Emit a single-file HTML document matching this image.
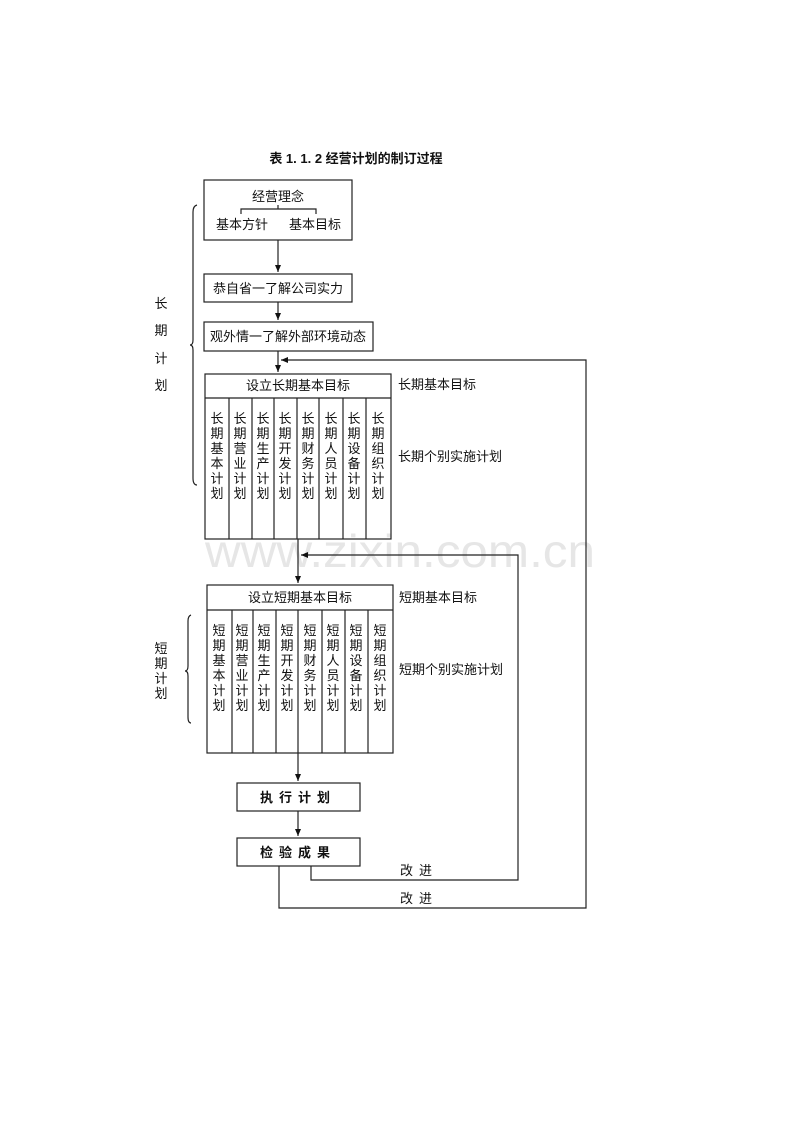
<!DOCTYPE html>
<html><head><meta charset="utf-8"><style>
html,body{margin:0;padding:0;background:#fff;}
svg{display:block;}
text{font-family:"Liberation Sans","Noto Sans CJK SC","WenQuanYi Zen Hei",sans-serif;fill:#111;}
</style></head><body>
<svg width="800" height="1132" viewBox="0 0 800 1132" xmlns="http://www.w3.org/2000/svg">
<defs><marker id="a" markerWidth="8" markerHeight="8" refX="7" refY="4" orient="auto" markerUnits="userSpaceOnUse"><path d="M0,1 L7,4 L0,7 Z" fill="#111"/></marker></defs>
<text x="205" y="567" font-size="46" style="fill:#e6e6e6" textLength="390" lengthAdjust="spacingAndGlyphs">www.zixin.com.cn</text>
<text x="356" y="163" font-size="13" font-weight="bold" text-anchor="middle">表 1. 1. 2  经营计划的制订过程</text>
<g fill="none" stroke="#222" stroke-width="1.2">
<rect x="204" y="180" width="148" height="60"/>
<path d="M278,205 V209 M241,214 V209 H316 V214"/>
<rect x="204" y="274" width="148" height="28"/>
<rect x="204" y="322" width="169" height="29"/>
<rect x="205" y="374" width="186" height="165"/>
<path d="M205,398 H391 M229,398V539 M252,398V539 M274,398V539 M297,398V539 M319,398V539 M343,398V539 M366,398V539"/>
<rect x="207" y="585" width="186" height="168"/>
<path d="M207,610 H393 M232,610V753 M253,610V753 M276,610V753 M298,610V753 M322,610V753 M345,610V753 M368,610V753"/>
<rect x="237" y="783" width="123" height="28"/>
<rect x="237" y="838" width="123" height="28"/>
<path d="M278,240 V272" marker-end="url(#a)"/>
<path d="M278,302 V320" marker-end="url(#a)"/>
<path d="M278,351 V372" marker-end="url(#a)"/>
<path d="M298,539 V583" marker-end="url(#a)"/>
<path d="M298,753 V781" marker-end="url(#a)"/>
<path d="M298,811 V836" marker-end="url(#a)"/>
<path d="M311,866 V880 H518 V555 H301" marker-end="url(#a)"/>
<path d="M279,866 V908 H586 V360 H281" marker-end="url(#a)"/>
<path d="M197,205 Q193,206 193,212 V340 Q193,345 190,345 Q193,345 193,350 V478 Q193,485 197,485"/>
<path d="M191,615 Q188,616 188,621 V666 Q188,671 185,671 Q188,671 188,676 V717 Q188,723 191,723"/>
</g>
<g font-size="13">
<text x="278" y="201" text-anchor="middle">经营理念</text>
<text x="242" y="229" text-anchor="middle">基本方针</text>
<text x="315" y="229" text-anchor="middle">基本目标</text>
<text x="278" y="293" text-anchor="middle">恭自省一了解公司实力</text>
<text x="288" y="341" text-anchor="middle">观外情一了解外部环境动态</text>
<text x="298" y="390" text-anchor="middle">设立长期基本目标</text>
<text x="300" y="602" text-anchor="middle">设立短期基本目标</text>
<text x="398" y="389">长期基本目标</text>
<text x="398" y="461">长期个别实施计划</text>
<text x="399" y="602">短期基本目标</text>
<text x="399" y="674">短期个别实施计划</text>
<text x="298" y="802" text-anchor="middle" font-weight="bold" letter-spacing="6">执行计划</text>
<text x="298" y="857" text-anchor="middle" font-weight="bold" letter-spacing="6">检验成果</text>
<text x="400" y="875" letter-spacing="6">改进</text>
<text x="400" y="903" letter-spacing="6">改进</text>
</g>
<g font-size="13" text-anchor="middle">
<text x="161" y="308">长</text><text x="161" y="335">期</text><text x="161" y="363">计</text><text x="161" y="390">划</text>
<text x="161" y="653">短</text><text x="161" y="668">期</text><text x="161" y="683">计</text><text x="161" y="698">划</text>
</g>
<g font-size="13" text-anchor="middle">
<text y="423"><tspan x="217">长</tspan><tspan x="217" dy="15">期</tspan><tspan x="217" dy="15">基</tspan><tspan x="217" dy="15">本</tspan><tspan x="217" dy="15">计</tspan><tspan x="217" dy="15">划</tspan></text>
<text y="423"><tspan x="240">长</tspan><tspan x="240" dy="15">期</tspan><tspan x="240" dy="15">营</tspan><tspan x="240" dy="15">业</tspan><tspan x="240" dy="15">计</tspan><tspan x="240" dy="15">划</tspan></text>
<text y="423"><tspan x="263">长</tspan><tspan x="263" dy="15">期</tspan><tspan x="263" dy="15">生</tspan><tspan x="263" dy="15">产</tspan><tspan x="263" dy="15">计</tspan><tspan x="263" dy="15">划</tspan></text>
<text y="423"><tspan x="285">长</tspan><tspan x="285" dy="15">期</tspan><tspan x="285" dy="15">开</tspan><tspan x="285" dy="15">发</tspan><tspan x="285" dy="15">计</tspan><tspan x="285" dy="15">划</tspan></text>
<text y="423"><tspan x="308">长</tspan><tspan x="308" dy="15">期</tspan><tspan x="308" dy="15">财</tspan><tspan x="308" dy="15">务</tspan><tspan x="308" dy="15">计</tspan><tspan x="308" dy="15">划</tspan></text>
<text y="423"><tspan x="331">长</tspan><tspan x="331" dy="15">期</tspan><tspan x="331" dy="15">人</tspan><tspan x="331" dy="15">员</tspan><tspan x="331" dy="15">计</tspan><tspan x="331" dy="15">划</tspan></text>
<text y="423"><tspan x="354">长</tspan><tspan x="354" dy="15">期</tspan><tspan x="354" dy="15">设</tspan><tspan x="354" dy="15">备</tspan><tspan x="354" dy="15">计</tspan><tspan x="354" dy="15">划</tspan></text>
<text y="423"><tspan x="378">长</tspan><tspan x="378" dy="15">期</tspan><tspan x="378" dy="15">组</tspan><tspan x="378" dy="15">织</tspan><tspan x="378" dy="15">计</tspan><tspan x="378" dy="15">划</tspan></text>
<text y="635"><tspan x="219">短</tspan><tspan x="219" dy="15">期</tspan><tspan x="219" dy="15">基</tspan><tspan x="219" dy="15">本</tspan><tspan x="219" dy="15">计</tspan><tspan x="219" dy="15">划</tspan></text>
<text y="635"><tspan x="242">短</tspan><tspan x="242" dy="15">期</tspan><tspan x="242" dy="15">营</tspan><tspan x="242" dy="15">业</tspan><tspan x="242" dy="15">计</tspan><tspan x="242" dy="15">划</tspan></text>
<text y="635"><tspan x="264">短</tspan><tspan x="264" dy="15">期</tspan><tspan x="264" dy="15">生</tspan><tspan x="264" dy="15">产</tspan><tspan x="264" dy="15">计</tspan><tspan x="264" dy="15">划</tspan></text>
<text y="635"><tspan x="287">短</tspan><tspan x="287" dy="15">期</tspan><tspan x="287" dy="15">开</tspan><tspan x="287" dy="15">发</tspan><tspan x="287" dy="15">计</tspan><tspan x="287" dy="15">划</tspan></text>
<text y="635"><tspan x="310">短</tspan><tspan x="310" dy="15">期</tspan><tspan x="310" dy="15">财</tspan><tspan x="310" dy="15">务</tspan><tspan x="310" dy="15">计</tspan><tspan x="310" dy="15">划</tspan></text>
<text y="635"><tspan x="333">短</tspan><tspan x="333" dy="15">期</tspan><tspan x="333" dy="15">人</tspan><tspan x="333" dy="15">员</tspan><tspan x="333" dy="15">计</tspan><tspan x="333" dy="15">划</tspan></text>
<text y="635"><tspan x="356">短</tspan><tspan x="356" dy="15">期</tspan><tspan x="356" dy="15">设</tspan><tspan x="356" dy="15">备</tspan><tspan x="356" dy="15">计</tspan><tspan x="356" dy="15">划</tspan></text>
<text y="635"><tspan x="380">短</tspan><tspan x="380" dy="15">期</tspan><tspan x="380" dy="15">组</tspan><tspan x="380" dy="15">织</tspan><tspan x="380" dy="15">计</tspan><tspan x="380" dy="15">划</tspan></text>
</g>
</svg>
</body></html>
